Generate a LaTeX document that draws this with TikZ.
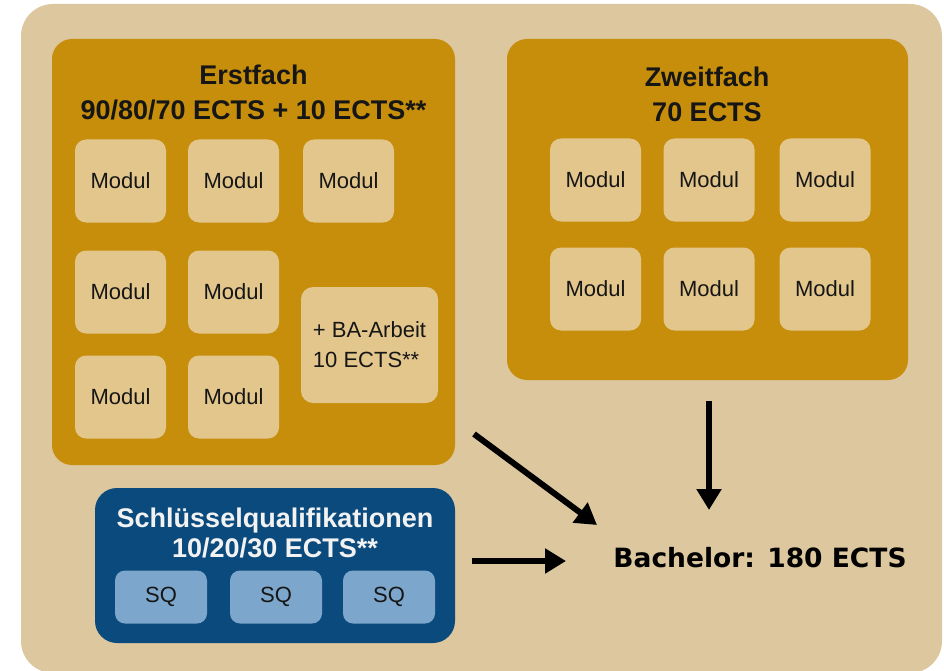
\documentclass[tikz,border=0pt]{standalone}
\usepackage{fontspec}
\setmainfont{Liberation Sans}
\newfontfamily\verdanalike{DejaVu Sans}
\usetikzlibrary{arrows.meta}
\definecolor{bgbeige}{HTML}{DCC79E}
\definecolor{goldbox}{HTML}{C68E0B}
\definecolor{modfill}{HTML}{E3C68C}
\definecolor{bluebox}{HTML}{0B4A7D}
\definecolor{sqfill}{HTML}{7CA6CB}
\definecolor{darktext}{HTML}{161616}
\definecolor{lighttext}{HTML}{F2F2F2}
\tikzset{
  outerbox/.style={fill=bgbeige, rounded corners=32pt, draw=none},
  groupbox/.style={fill=goldbox, rounded corners=20pt, draw=none},
  sqgroup/.style={fill=bluebox, rounded corners=22pt, draw=none},
  modbox/.style={rectangle, fill=modfill, rounded corners=11pt, draw=none,
    minimum width=91pt, minimum height=83pt, inner sep=0pt,
    text=darktext, font=\fontsize{22}{26}\selectfont},
  babox/.style={rectangle, fill=modfill, rounded corners=12pt, draw=none,
    minimum width=137pt, minimum height=116pt, inner sep=0pt, align=left,
    text=darktext, font=\fontsize{22}{30}\selectfont},
  sqbox/.style={rectangle, fill=sqfill, rounded corners=10pt, draw=none,
    minimum width=92pt, minimum height=53pt, inner sep=0pt,
    text=darktext, font=\fontsize{22}{26}\selectfont},
  titletext/.style={align=center, inner sep=0pt, text=darktext,
    font=\fontsize{27}{35}\selectfont\bfseries},
  sqtitle/.style={align=center, inner sep=0pt, text=lighttext,
    font=\fontsize{27}{30}\selectfont\bfseries},
  flow/.style={line width=6pt, -{Triangle[length=21pt,width=24pt]}, black}
}
\begin{document}
\begin{tikzpicture}[x=1pt,y=-1pt]
\useasboundingbox (0,0) rectangle (944,671);
% background
\path[outerbox] (21,4) rectangle (942,673);
% group boxes
\path[groupbox] (52,39) rectangle (455,465);
\path[groupbox] (507,39) rectangle (908,380);
\path[sqgroup] (95,488) rectangle (455,643);

% Erstfach
\node[titletext] (erstT) at (253.5,92) {Erstfach\\90/80/70 ECTS + 10 ECTS**};
\node[modbox] (e11) at (120.5,181) {Modul};
\node[modbox] (e12) at (233.5,181) {Modul};
\node[modbox] (e13) at (348.5,181) {Modul};
\node[modbox] (e21) at (120.5,292) {Modul};
\node[modbox] (e22) at (233.5,292) {Modul};
\node[modbox] (e31) at (120.5,397) {Modul};
\node[modbox] (e32) at (233.5,397) {Modul};
\node[babox] (ba) at (369.5,345) {+ BA-Arbeit\\10 ECTS**};

% Zweitfach
\node[titletext] (zweiT) at (707,94) {Zweitfach\\70 ECTS};
\node[modbox] (z11) at (595.5,180) {Modul};
\node[modbox] (z12) at (709,180) {Modul};
\node[modbox] (z13) at (825,180) {Modul};
\node[modbox] (z21) at (595.5,289) {Modul};
\node[modbox] (z22) at (709,289) {Modul};
\node[modbox] (z23) at (825,289) {Modul};

% Schluesselqualifikationen
\node[sqtitle] (sqT) at (275,533) {Schlüsselqualifikationen\\10/20/30 ECTS**};
\node[sqbox] (sq1) at (161,597) {SQ};
\node[sqbox] (sq2) at (276,597) {SQ};
\node[sqbox] (sq3) at (389,597) {SQ};

% Bachelor
\node[inner sep=0pt, text=black, font=\verdanalike\bfseries\fontsize{26.5}{30}\selectfont] (bach) at (760,558) {Bachelor: 180 ECTS};

% arrows
\coordinate (a1s) at (474,434);
\coordinate (a1e) at (597,525);
\coordinate (a2s) at (472,561);
\coordinate (a2e) at (566,561);
\coordinate (a3s) at (709,401);
\coordinate (a3e) at (709,510);
\draw[flow] (a1s) -- (a1e);
\draw[flow] (a2s) -- (a2e);
\draw[flow] (a3s) -- (a3e);
\end{tikzpicture}
\end{document}
